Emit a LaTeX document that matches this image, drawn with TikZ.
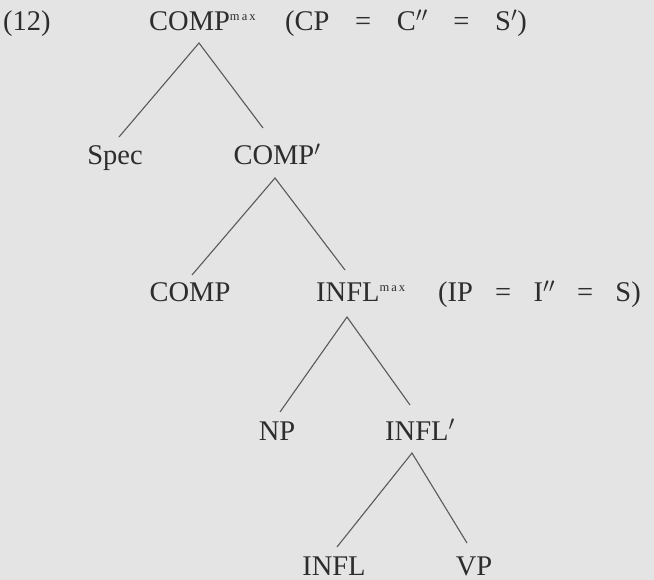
\documentclass[tikz,border=0pt]{standalone}
\usepackage{fontspec}
\setmainfont{Liberation Serif}
\begin{document}
\begin{tikzpicture}[x=1pt,y=-1pt,
  lbl/.style={anchor=base,inner sep=0pt,text=txt,font=\fontsize{28.5}{30}\selectfont},
  lblw/.style={lbl,anchor=base west},
  br/.style={draw=ln,line width=1.1pt}]
\definecolor{bg}{RGB}{228,228,228}
\definecolor{txt}{RGB}{45,45,45}
\definecolor{ln}{RGB}{90,90,90}
\newcommand{\mxsup}{\raisebox{10pt}{\fontsize{12.5}{12.5}\selectfont m\,a\,x}}
\newcommand{\eqsp}{\hspace{0.9em}=\hspace{0.9em}}
\newcommand{\eqspb}{\hspace{0.78em}=\hspace{0.78em}}
\fill[bg] (0,0) rectangle (654,580);
\useasboundingbox (0,0) rectangle (654,580);
% labels
\node[lblw] (num) at (3,31) {(12)};
\node[lblw] (cpmax) at (149,31) {COMP\mxsup};
\node[lblw] (cpeq) at (285,31) {(CP\eqsp C$''$\eqsp S$'$)};
\node[lbl] (spec) at (115,165) {Spec};
\node[lbl] (cbar) at (277,165) {COMP$'$};
\node[lbl] (comp) at (190,302) {COMP};
\node[lblw] (ipmax) at (316,302) {INFL\mxsup};
\node[lblw] (ipeq) at (438,302) {(IP\eqspb I$''$\eqspb S)};
\node[lbl] (np) at (277,440) {NP};
\node[lbl] (ibar) at (420,440) {INFL$'$};
\node[lbl] (infl) at (334,575) {INFL};
\node[lbl] (vp) at (474,575) {VP};
% branch points
\coordinate (a1) at (199,43);
\coordinate (a1l) at (119,137);
\coordinate (a1r) at (263,128);
\coordinate (a2) at (275,178);
\coordinate (a2l) at (192,275);
\coordinate (a2r) at (345,270);
\coordinate (a3) at (347,317);
\coordinate (a3l) at (280,412);
\coordinate (a3r) at (410,405);
\coordinate (a4) at (412,453);
\coordinate (a4l) at (337,547);
\coordinate (a4r) at (467,543);
\draw[br] (a1l) -- (a1) -- (a1r);
\draw[br] (a2l) -- (a2) -- (a2r);
\draw[br] (a3l) -- (a3) -- (a3r);
\draw[br] (a4l) -- (a4) -- (a4r);
\end{tikzpicture}
\end{document}
